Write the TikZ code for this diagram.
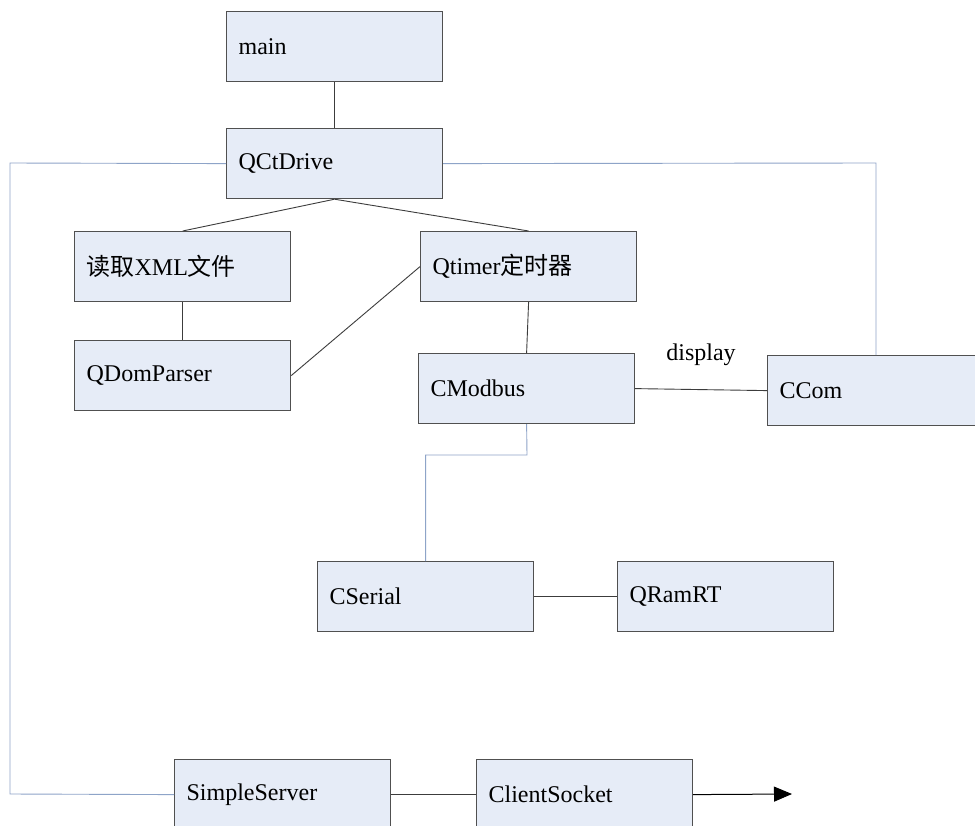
\documentclass[tikz,border=0pt]{standalone}
\usepackage{fontspec}
\setmainfont{Liberation Serif}
\newfontfamily\cjk{Noto Sans CJK SC}
\usetikzlibrary{arrows.meta,calc}
\definecolor{boxfill}{RGB}{230,236,247}
\definecolor{boxline}{RGB}{80,80,80}
\definecolor{blueline}{RGB}{142,164,200}
\definecolor{darkline}{RGB}{60,60,60}
\begin{document}
\begin{tikzpicture}[x=1pt,y=-1pt,
  box/.style={draw=boxline,fill=boxfill,line width=1.2pt,anchor=north west,
    minimum height=70pt,text width=192pt,inner xsep=12pt,inner ysep=0pt,align=left,
    font=\fontsize{24}{28}\selectfont},
  dk/.style={draw=darkline,line width=0.9pt},
  bl/.style={draw=blueline,line width=0.9pt}]
\useasboundingbox (0,0) rectangle (975,825);
\clip (0,0) rectangle (975,825);
\fill[white] (0,0) rectangle (975,825);
% boxes
\node[box] (main) at (226,11) {main};
\node[box] (drive) at (226,128) {QCtDrive};
\node[box] (xml) at (74,231) {{\cjk 读取}XML{\cjk 文件}};
\node[box] (dom) at (74,340) {QDomParser};
\node[box] (timer) at (420,231) {Qtimer{\cjk 定时器}};
\node[box] (modbus) at (418,353) {CModbus};
\node[box] (ccom) at (767,355) {CCom};
\node[box] (serial) at (317,561) {CSerial};
\node[box] (ramrt) at (617,561) {QRamRT};
\node[box] (server) at (174,759) {SimpleServer};
\node[box] (client) at (476,759) {ClientSocket};
% label
\node[font=\fontsize{24}{28}\selectfont,inner sep=0pt] (disp) at (701,355) {display};
% coordinates
\coordinate (lt) at (10,163);
\coordinate (lb) at (10,794);
\coordinate (rt) at (876,163);
\coordinate (mb) at (527,455);
\coordinate (arrowend) at (792,794);
% dark connectors
\draw[dk] (main.south) -- (drive.north);
\draw[dk] (drive.south) -- (xml.north);
\draw[dk] (drive.south) -- (timer.north);
\draw[dk] (xml.south) -- (dom.north);
\draw[dk] (dom.east) -- (timer.west);
\draw[dk] (timer.south) -- (modbus.north);
\draw[dk] (modbus.east) -- (ccom.west);
\draw[dk] (serial.east) -- (ramrt.west);
\draw[dk] (server.east) -- (client.west);
\draw[draw=black,line width=1pt,-{Triangle[length=18pt,width=15pt,fill=black]}] (client.east) -- (arrowend);
% blue connectors
\draw[bl] (drive.west) -- (lt) -- (lb) -- (server.west);
\draw[bl] (drive.east) -- (rt) -- (rt |- ccom.north);
\draw[bl] (modbus.south) -- (mb) -| (serial.north);
\end{tikzpicture}
\end{document}
